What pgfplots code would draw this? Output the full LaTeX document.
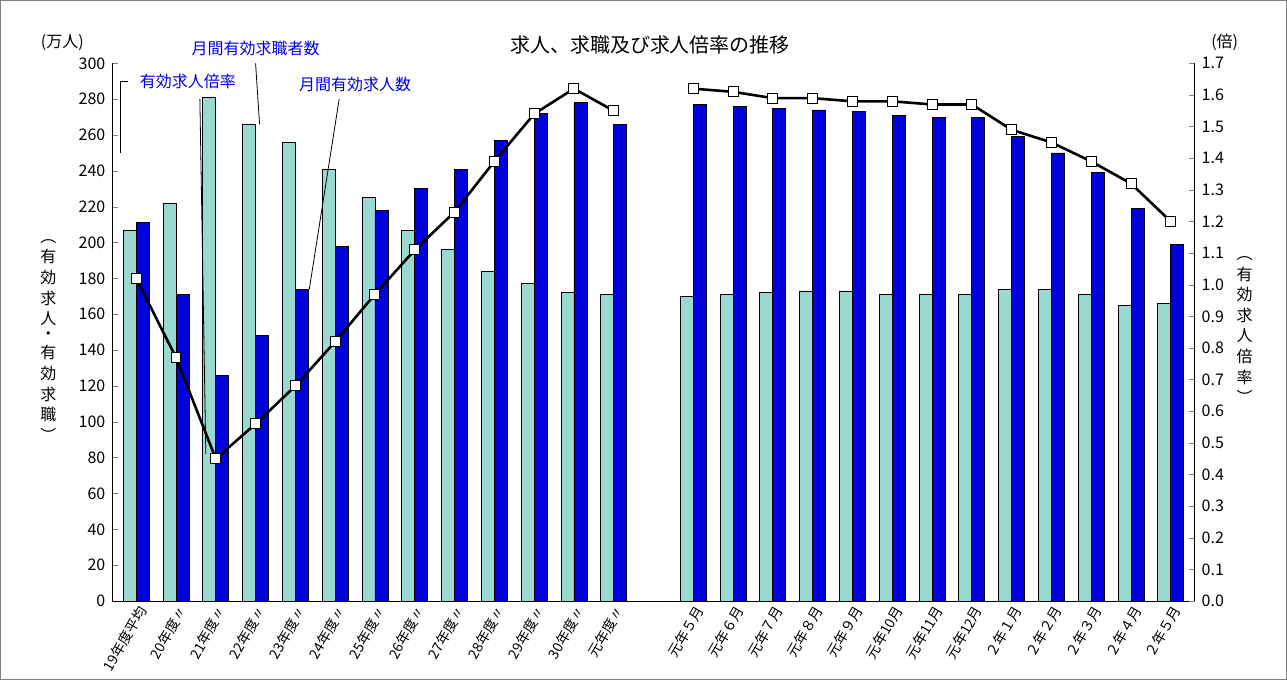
\documentclass[border=0pt]{standalone}
\usepackage{pgfplots}
\pgfplotsset{compat=1.18}
\usepackage{fontspec}
\setmainfont{Noto Sans CJK JP}
\definecolor{lb}{HTML}{99D9D0}
\definecolor{db}{HTML}{0000DD}
\begin{document}
\begin{tikzpicture}[font=\fontsize{8}{9}\selectfont]
\begin{scope}[x=0.5pt,y=0.5pt]
\draw[gray] (0,0) rectangle (1287,-679);
\node[font=\fontsize{10}{12}\selectfont] at (650,-45) {求人、求職及び求人倍率の推移};
\node at (62,-42) {(万人)};
\node at (1225,-42) {(倍)};
\node at (48,-340) {\shortstack{︵\\有\\効\\求\\人\\・\\有\\効\\求\\職\\︶}};
\node at (1245,-330) {\shortstack{︵\\有\\効\\求\\人\\倍\\率\\︶}};
\end{scope}
\begin{axis}[at={(56pt,-300.5pt)},anchor=south west,scale only axis,width=541.5pt,height=269pt,
 xmin=-0.6,xmax=26.6,ymin=0,ymax=300,ytick={0,20,...,300},
 axis y line*=left, axis x line*=bottom, xtick={0,...,12,14,15,...,26},
 xticklabels={19年度平均,20年度〃,21年度〃,22年度〃,23年度〃,24年度〃,25年度〃,26年度〃,27年度〃,28年度〃,29年度〃,30年度〃,元年度〃,元年５月,元年６月,元年７月,元年８月,元年９月,元年10月,元年11月,元年12月,２年１月,２年２月,２年３月,２年４月,２年５月},
 xticklabel style={rotate=60,anchor=north east,inner sep=1pt,font=\fontsize{7}{8}\selectfont},
 yticklabel style={font=\fontsize{8}{9}\selectfont}, major tick length=3pt,
 /pgf/number format/assume math mode=true, clip=false]
\addplot[ybar,bar width=6.5pt,bar shift=-3.25pt,fill=lb,draw=black] coordinates {
(0,207)(1,222)(2,281)(3,266)(4,256)(5,241)(6,225)(7,207)(8,196)(9,184)(10,177)(11,172)(12,171)
(14,170)(15,171)(16,172)(17,173)(18,173)(19,171)(20,171)(21,171)(22,174)(23,174)(24,171)(25,165)(26,166)};
\addplot[ybar,bar width=6.5pt,bar shift=3.25pt,fill=db,draw=black] coordinates {
(0,211)(1,171)(2,126)(3,148)(4,174)(5,198)(6,218)(7,230)(8,241)(9,257)(10,272)(11,278)(12,266)
(14,277)(15,276)(16,275)(17,274)(18,273)(19,271)(20,270)(21,270)(22,259)(23,250)(24,239)(25,219)(26,199)};
\draw (axis cs:-0.2,290) -- (axis cs:-0.4,290) -- (axis cs:-0.4,250);
\draw (axis cs:1.6,280) -- (axis cs:1.75,82);
\node[text=db,anchor=south] at (axis cs:1.3,282) {有効求人倍率};
\draw (axis cs:3.0,300) -- (axis cs:3.1,266);
\node[text=db,anchor=south] at (axis cs:3.0,300) {月間有効求職者数};
\draw (axis cs:5.1,280) -- (axis cs:4.35,174);
\node[text=db,anchor=south] at (axis cs:5.5,280) {月間有効求人数};
\end{axis}
\begin{axis}[at={(56pt,-300.5pt)},anchor=south west,scale only axis,width=541.5pt,height=269pt,
 xmin=-0.6,xmax=26.6,ymin=0,ymax=1.7,ytick={0,0.1,...,1.7},axis y line*=right,axis x line=none,
 yticklabel style={/pgf/number format/.cd,fixed,fixed zerofill,precision=1},
 tick label style={font=\fontsize{8}{9}\selectfont}, major tick length=3pt,
 /pgf/number format/assume math mode=true]
\addplot[black,line width=1.3pt,mark=square*,mark size=2.5pt,mark options={fill=white,draw=black,line width=0.5pt}] coordinates {
(0,1.02)(1,0.77)(2,0.45)(3,0.56)(4,0.68)(5,0.82)(6,0.97)(7,1.11)(8,1.23)(9,1.39)(10,1.54)(11,1.62)(12,1.55)};
\addplot[black,line width=1.3pt,mark=square*,mark size=2.5pt,mark options={fill=white,draw=black,line width=0.5pt}] coordinates {
(14,1.62)(15,1.61)(16,1.59)(17,1.59)(18,1.58)(19,1.58)(20,1.57)(21,1.57)(22,1.49)(23,1.45)(24,1.39)(25,1.32)(26,1.20)};
\end{axis}
\end{tikzpicture}
\end{document}
